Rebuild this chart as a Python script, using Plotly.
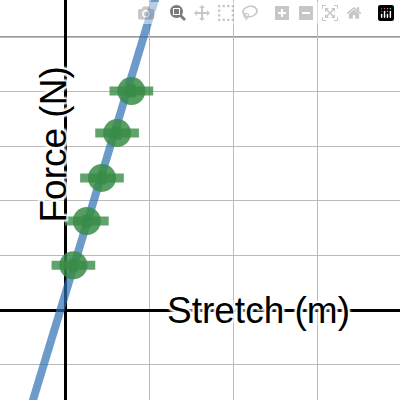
import plotly.graph_objects as go

# data in grid units
stretch = [0.10, 0.26, 0.44, 0.62, 0.79]
force = [0.82, 1.63, 2.42, 3.24, 4.01]
stretch_err = [0.26, 0.26, 0.26, 0.26, 0.26]
force_err = [0.12, 0.12, 0.12, 0.12, 0.12]
fit_x = [-0.40, 1.10]
fit_y = [0.276 + 5.05 * x for x in fit_x]

fig = go.Figure()
fig.add_trace(go.Scatter(x=fit_x, y=fit_y, mode="lines",
                         line=dict(color="rgba(45,112,179,0.7)", width=8)))
fig.add_trace(go.Scatter(
    x=stretch, y=force, mode="markers",
    marker=dict(color="rgba(56,140,70,0.85)", size=28),
    error_x=dict(type="data", array=stretch_err, color="rgba(56,140,70,0.8)", thickness=9, width=0),
    error_y=dict(type="data", array=force_err, color="rgba(56,140,70,0.8)", thickness=9, width=0),
))

# major grid line
fig.add_shape(type="line", xref="paper", x0=0, x1=1, y0=5, y1=5,
              line=dict(color="#777", width=1.5), layer="below")

fig.update_xaxes(range=[-0.774, 3.988], dtick=1, showticklabels=False,
                 gridcolor="#bbb", gridwidth=1, zeroline=True,
                 zerolinecolor="black", zerolinewidth=3, showline=False)
fig.update_yaxes(range=[-1.648, 5.678], dtick=1, showticklabels=False,
                 gridcolor="#bbb", gridwidth=1, zeroline=True,
                 zerolinecolor="black", zerolinewidth=3, showline=False)

halo = "white 2px 2px 2px, white -2px -2px 2px, white 2px -2px 2px, white -2px 2px 2px"
fig.add_annotation(text="Stretch (m)", x=258 / 400, y=1 - 333 / 400,
                   xref="paper", yref="paper", showarrow=False,
                   font=dict(size=37, color="black", family="Liberation Sans", shadow=halo))
fig.add_annotation(text="Force (N)", x=30 / 400, y=1 - 145 / 400,
                   xref="paper", yref="paper", showarrow=False, textangle=-90,
                   font=dict(size=37, color="black", family="Liberation Sans", shadow=halo))

fig.update_layout(width=400, height=400, margin=dict(l=0, r=0, t=0, b=0),
                  showlegend=False, plot_bgcolor="white", paper_bgcolor="white")
fig.write_html("out.html", post_script="document.body.style.margin='0';")
